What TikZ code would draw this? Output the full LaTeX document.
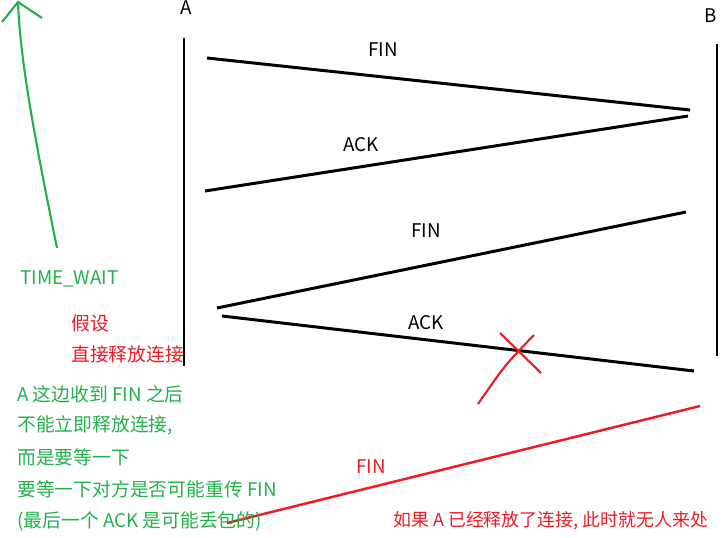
\documentclass[tikz,border=0pt]{standalone}
\usepackage{fontspec}
\setmainfont{Noto Sans CJK SC}
\usepackage{xcolor}
\usetikzlibrary{positioning,arrows.meta}
\definecolor{pgreen}{RGB}{34,177,76}
\definecolor{pred}{RGB}{237,28,36}
\tikzset{
  msg/.style={line width=1.7pt},
  lbl/.style={font=\fontsize{10.7}{13}\selectfont,inner sep=0pt},
  gtxt/.style={lbl,pgreen,anchor=west},
  rtxt/.style={lbl,pred,anchor=west}
}

\begin{document}
\begin{tikzpicture}[x=0.02cm,y=-0.02cm]
  \clip (0,0) rectangle (725,538);
  \fill[white] (0,0) rectangle (725,538);
  % the two ends
  \node[lbl] (a) at (186,8) {A};
  \node[lbl] (b) at (711,16) {B};
  \coordinate (atop) at (184,38);  \coordinate (abot) at (184,366);
  \coordinate (btop) at (717,44);  \coordinate (bbot) at (717,356);
  \draw[msg] (atop)--(abot);
  \draw[msg] (btop)--(bbot);
  % messages
  \coordinate (fin1s) at (207,58);  \coordinate (fin1e) at (690,110);
  \coordinate (ack1s) at (688,116); \coordinate (ack1e) at (205,191);
  \coordinate (fin2s) at (686,212); \coordinate (fin2e) at (217,308);
  \coordinate (ack2s) at (222,316); \coordinate (ack2e) at (694,371);
  \draw[msg] (fin1s)--(fin1e);
  \draw[msg] (ack1s)--(ack1e);
  \draw[msg] (fin2s)--(fin2e);
  \draw[msg] (ack2s)--(ack2e);
  \node[lbl] (fin1) at (383,50) {FIN};
  \node[lbl] (ack1) at (361,145) {ACK};
  \node[lbl] (fin2) at (426,231) {FIN};
  \node[lbl] (ack2) at (426,323) {ACK};
  % lost ack
  \coordinate (x1) at (500,333); \coordinate (x2) at (541,373);
  \coordinate (x3) at (534,335); \coordinate (x4) at (478,404);
  \draw[pred,line width=1.2pt] (x1)--(x2);
  \draw[pred,line width=1.2pt] (x3) .. controls (505,365) .. (x4);
  % resent fin
  \coordinate (fin3s) at (227,523); \coordinate (fin3e) at (700,406);
  \draw[pred,line width=1.4pt] (fin3s)--(fin3e);
  \node[lbl,pred] (fin3) at (371,467) {FIN};
  % time wait
  \coordinate (tws) at (57,248); \coordinate (twe) at (18,2);
  \draw[pgreen,line width=1.2pt] (tws) .. controls (35,140) and (20,60) .. (twe);
  \draw[pgreen,line width=1.2pt] (2,22)--(twe)--(42,18);
  \node[gtxt] (tw) at (20,279) {TIME\_WAIT};
  \node[rtxt] (r1) at (71,323) {假设};
  \node[rtxt] (r2) at (71,354) {直接释放连接};
  \node[gtxt] (g1) at (17,394) {A 这边收到 FIN 之后};
  \node[gtxt] (g2) at (17,425) {不能立即释放连接,};
  \node[gtxt] (g3) at (17,457) {而是要等一下};
  \node[gtxt] (g4) at (17,489) {要等一下对方是否可能重传 FIN};
  \node[gtxt] (g5) at (17,521) {(最后一个 ACK 是可能丢包的)};
  \node[rtxt,font=\fontsize{10.2}{13}\selectfont] (r3) at (393,521) {如果 A 已经释放了连接, 此时就无人来处};
\end{tikzpicture}
\end{document}
